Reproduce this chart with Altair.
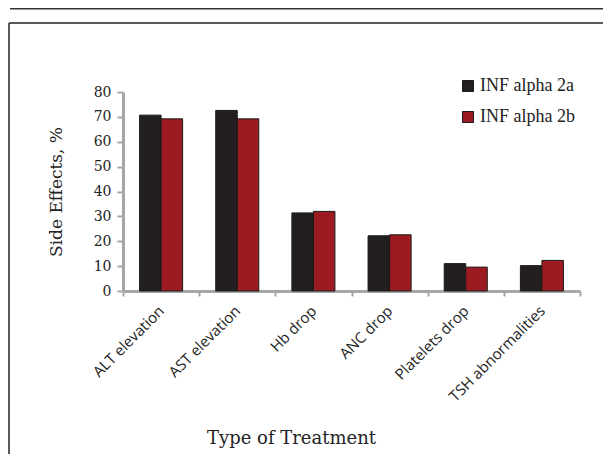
import altair as alt
import pandas as pd

categories = ["ALT elevation", "AST elevation", "Hb drop", "ANC drop",
              "Platelets drop", "TSH abnormalities"]
series_names = ["INF alpha 2a", "INF alpha 2b"]
alpha_2a = [70.7, 72.6, 31.4, 22.2, 11.0, 10.2]
alpha_2b = [69.2, 69.2, 32.0, 22.6, 9.6, 12.3]
y_ticks = [0, 10, 20, 30, 40, 50, 60, 70, 80]
colors = ["#231f20", "#9b1b20"]

rows = []
for c, a, b in zip(categories, alpha_2a, alpha_2b):
    rows.append({"cat": c, "series": series_names[0], "value": a})
    rows.append({"cat": c, "series": series_names[1], "value": b})
df = pd.DataFrame(rows)

axis_grey = "#a6a6a6"

bars = alt.Chart(df).mark_bar(stroke="#1a1a1a", strokeWidth=1).encode(
    x=alt.X("cat:N", sort=categories,
            scale=alt.Scale(paddingInner=0, paddingOuter=0),
            axis=alt.Axis(title="Type of Treatment", labelAngle=-45,
                          labelAlign="right", labelBaseline="middle",
                          labelFont="Open Sans", labelFontSize=15, labelColor="#222",
                          labelPadding=12,
                          tickBand="extent", tickSize=5, tickWidth=2,
                          tickColor=axis_grey, domainColor=axis_grey,
                          domainWidth=3,
                          titleFont="DejaVu Serif", titleFontSize=18,
                          titleFontWeight="normal", titleColor="#222",
                          titleX=168, titleY=147, titleAlign="center",
                          titleBaseline="middle")),
    xOffset=alt.XOffset("series:N", sort=series_names,
                        scale=alt.Scale(paddingOuter=0.77, paddingInner=0)),
    y=alt.Y("value:Q", scale=alt.Scale(domain=[0, 80]),
            axis=alt.Axis(title="Side Effects, %", values=y_ticks, grid=False,
                          labelFont="DejaVu Serif", labelFontSize=14,
                          labelColor="#222", labelPadding=6,
                          tickSize=6, tickWidth=2, tickColor=axis_grey,
                          domainColor=axis_grey, domainWidth=3,
                          titleFont="DejaVu Serif", titleFontSize=17,
                          titleFontWeight="normal", titleColor="#222",
                          titlePadding=28)),
    color=alt.Color("series:N", sort=series_names,
                    scale=alt.Scale(domain=series_names, range=colors),
                    legend=alt.Legend(title=None, orient="none",
                                      legendX=336, legendY=-15,
                                      symbolType="square", symbolSize=121,
                                      symbolStrokeColor="#1a1a1a",
                                      symbolStrokeWidth=1,
                                      labelFont="Liberation Serif",
                                      labelFontSize=18, labelColor="#222",
                                      labelOffset=3, rowPadding=13,
                                      padding=0)),
)

deco_df = pd.DataFrame({"k": [0]})
deco = alt.Chart(deco_df)
top_line = deco.mark_rule(color="#333333", strokeWidth=1.5).encode(
    x=alt.value(-113), x2=alt.value(490), y=alt.value(-83.3))
frame_top = deco.mark_rule(color="#222222", strokeWidth=1.5).encode(
    x=alt.value(-114), x2=alt.value(495), y=alt.value(-69))
frame_left = deco.mark_rule(color="#222222", strokeWidth=1.5).encode(
    x=alt.value(-114), y=alt.value(-69), y2=alt.value(380))

chart = alt.layer(top_line, frame_top, frame_left, bars).properties(
    width=457, height=199,
    autosize=alt.AutoSizeParams(type="none"),
    padding={"left": 115, "top": 84, "right": 23, "bottom": 163},
    background="white",
).configure_view(stroke=None)

chart.save("out.html", embed_options={"renderer": "svg", "actions": False})
